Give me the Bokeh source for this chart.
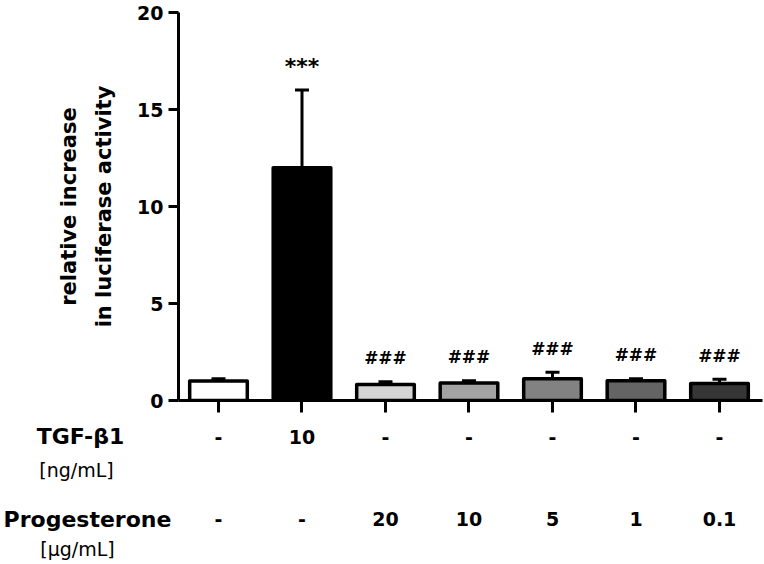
from bokeh.plotting import figure
from bokeh.models import Range1d, ColumnDataSource, Whisker, TeeHead, FixedTicker
from bokeh.core.properties import value
from bokeh.embed import file_html
from bokeh.resources import INLINE

# ---- data ----
groups = ["control", "TGF-b1 10", "P 20", "P 10", "P 5", "P 1", "P 0.1"]
means = [1.0, 12.0, 0.82, 0.90, 1.12, 1.02, 0.88]
errors = [0.12, 4.0, 0.15, 0.12, 0.33, 0.10, 0.22]
colors = ["#ffffff", "#000000", "#d4d4d4", "#a3a3a3", "#828282", "#646464", "#363636"]
signif = ["", "***", "###", "###", "###", "###", "###"]
tgf_doses = ["-", "10", "-", "-", "-", "-", "-"]
prog_doses = ["-", "-", "20", "10", "5", "1", "0.1"]
y_ticks = [0, 5, 10, 15, 20]
row_titles = ["TGF-\u03b21", "Progesterone"]
row_units = ["[ng/mL]", "[\u00b5g/mL]"]

FONT = "DejaVu Sans"

# ---- layout geometry ----
PX_X = 83.5        # px per category step
PX_Y = 19.4        # px per y unit
LEFT = 178
FRAME_W = 584
FRAME_H = 388
TOP = 12
AX_BOTTOM = 24
X0 = -0.479
X1 = X0 + FRAME_W / PX_X

x = list(range(len(groups)))
upper = [m + e for m, e in zip(means, errors)]
src = ColumnDataSource(dict(x=x, top=means, upper=upper, color=colors,
                            signif=signif, sig_y=[u + 1.2 for u in upper],
                            sig_size=["22px" if s == "***" else "17px" for s in signif],
                            tgf=tgf_doses, prog=prog_doses,
                            row1=[-1.86] * len(x), row2=[-6.13] * len(x)))

p = figure(frame_width=FRAME_W, frame_height=FRAME_H,
           x_range=Range1d(X0, X1), y_range=Range1d(0, 20),
           output_backend="svg", toolbar_location=None,
           min_border_left=LEFT, min_border_right=2, min_border_top=TOP,
           min_border_bottom=AX_BOTTOM)
p.title.visible = False
p.outline_line_color = None
p.grid.visible = False

p.vbar(x="x", top="top", bottom=0, width=0.69, source=src, fill_color="color",
       line_color="black", line_width=3.5, line_join="round")

w = Whisker(base="x", lower="top", upper="upper", source=src, lower_head=None,
            upper_head=TeeHead(size=14, line_width=3, line_color="black"),
            line_width=3, line_color="black")
p.add_layout(w)

p.text(x="x", y="sig_y", text="signif", source=src, text_font=value(FONT),
       text_font_style="bold", text_font_size="sig_size", text_align="center",
       text_baseline="middle", text_color="black")

ya = p.yaxis[0]
ya.ticker = FixedTicker(ticks=y_ticks)
ya.axis_line_width = 3
ya.major_tick_line_width = 3
ya.major_tick_out = 10
ya.major_tick_in = 0
ya.minor_tick_line_color = None
ya.major_label_standoff = 5
ya.major_label_text_font = FONT
ya.major_label_text_font_style = "bold"
ya.major_label_text_font_size = "19px"
ya.major_label_text_color = "black"
ya.axis_label = "relative increase\nin luciferase activity"
ya.axis_label_text_font = FONT
ya.axis_label_text_font_style = "bold"
ya.axis_label_text_font_size = "21px"
ya.axis_label_text_line_height = 1.45
ya.axis_label_standoff = 18
ya.axis_label_text_color = "black"

xa = p.xaxis[0]
xa.ticker = FixedTicker(ticks=x)
xa.axis_line_width = 3
xa.major_tick_line_width = 3
xa.major_tick_out = 12
xa.major_tick_in = 0
xa.minor_tick_line_color = None
xa.major_label_standoff = 0
xa.major_label_text_font_size = "0px"
xa.major_label_text_color = None

# ---- dose table below the axis (same x scale, separate root) ----
T_W = LEFT + FRAME_W
T_H = 564 - (TOP + FRAME_H + AX_BOTTOM)
tx0 = X0 - LEFT / PX_X
tx1 = tx0 + T_W / PX_X
ty1 = -AX_BOTTOM / PX_Y
ty0 = ty1 - T_H / PX_Y

t = figure(frame_width=T_W, frame_height=T_H, x_range=Range1d(tx0, tx1),
           y_range=Range1d(ty0, ty1), output_backend="svg", toolbar_location=None,
           x_axis_location=None, y_axis_location=None,
           min_border_left=0, min_border_right=0, min_border_top=0, min_border_bottom=0)
t.title.visible = False
t.outline_line_color = None
t.grid.visible = False

t.text(x="x", y="row1", text="tgf", source=src, text_font=value(FONT),
       text_font_style="bold", text_font_size="19px", text_align="center",
       text_baseline="middle", text_color="black")
t.text(x="x", y="row2", text="prog", source=src, text_font=value(FONT),
       text_font_style="bold", text_font_size="19px", text_align="center",
       text_baseline="middle", text_color="black")

hdr = ColumnDataSource(dict(x=[-1.653, -1.569], y=[-1.86, -6.13], text=row_titles))
units = ColumnDataSource(dict(x=[-1.701, -1.689], y=[-3.56, -7.63], text=row_units))
t.text(x="x", y="y", text="text", source=hdr, text_font=value(FONT),
       text_font_style="bold", text_font_size="22px", text_align="center",
       text_baseline="middle", text_color="black")
t.text(x="x", y="y", text="text", source=units, text_font=value(FONT),
       text_font_size="19px", text_align="center", text_baseline="middle",
       text_color="black")

open("out.html", "w").write(file_html([p, t], INLINE))
